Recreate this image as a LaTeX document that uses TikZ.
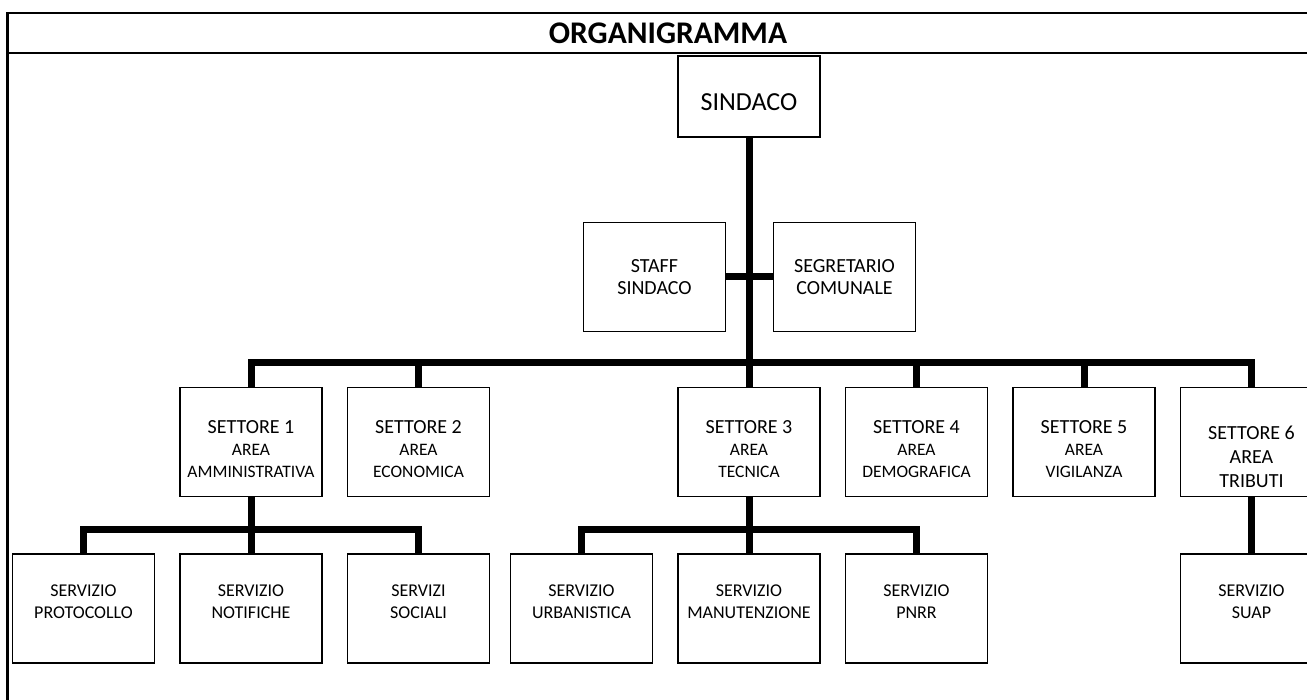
\documentclass[tikz,border=0pt]{standalone}
\usepackage{fontspec}
\setmainfont{Carlito}
\usetikzlibrary{positioning}
\newcommand{\areatext}[1]{{\fontsize{17.5}{20}\selectfont #1}}

\begin{document}
\begin{tikzpicture}[x=1pt, y=1pt,
  unit/.style={rectangle, draw, line width=1.5pt, inner sep=0pt, align=center, text centered,
               minimum width=142pt, minimum height=109pt},
  office/.style={unit, font=\fontsize{20}{22.5}\selectfont},
  settore/.style={unit, text height=71pt, font=\fontsize{20}{22}\selectfont},
  servizio/.style={unit, text depth=14pt, font=\fontsize{18}{22}\selectfont},
  conn/.style={line width=7pt},
  frame/.style={line width=2.5pt}]

\useasboundingbox (0,0) rectangle (1307,-700);

%Frame
\draw[frame] (7.5,-700) -- (7.5,-13) -- (1340,-13);
\draw[frame] (7.5,-53) -- (1340,-53);
\node (title) at (668,-33) {\fontsize{31.5}{36}\selectfont\bfseries ORGANIGRAMMA};

%Nodes
\node[unit, minimum height=81pt, text height=29pt, font=\fontsize{26}{30}\selectfont] (sindaco) at (749,-96.5) {SINDACO};
\node[office]   (staff)  at (654.5,-277)      {STAFF\\SINDACO};
\node[office]   (segr)   at (844.5,-277)      {SEGRETARIO\\COMUNALE};

\node[settore]  (s1)     at (251,-442)        {SETTORE 1\\\areatext{AREA}\\\areatext{AMMINISTRATIVA}};
\node[settore]  (s2)     [right=24pt of s1]   {SETTORE 2\\\areatext{AREA}\\\areatext{ECONOMICA}};
\node[settore]  (s3)     at (749,-442)        {SETTORE 3\\\areatext{AREA}\\\areatext{TECNICA}};
\node[settore]  (s4)     [right=24pt of s3]   {SETTORE 4\\\areatext{AREA}\\\areatext{DEMOGRAFICA}};
\node[settore]  (s5)     [right=24pt of s4]   {SETTORE 5\\\areatext{AREA}\\\areatext{VIGILANZA}};
\node[settore, text height=91pt] (s6) [right=24pt of s5] {SETTORE 6\\[2pt]AREA\\[2pt]TRIBUTI};

\node[servizio] (notif)  [below=56pt of s1]   {SERVIZIO\\NOTIFICHE};
\node[servizio] (prot)   [left=24pt of notif] {SERVIZIO\\PROTOCOLLO};
\node[servizio] (soc)    [right=24pt of notif]{SERVIZI\\SOCIALI};
\node[servizio] (manut)  [below=56pt of s3]   {SERVIZIO\\MANUTENZIONE};
\node[servizio] (urb)    [left=24pt of manut] {SERVIZIO\\URBANISTICA};
\node[servizio] (pnrr)   [right=24pt of manut]{SERVIZIO\\PNRR};
\node[servizio] (suap)   [below=56pt of s6]   {SERVIZIO\\SUAP};

\coordinate (bus)  at (749,-363);
\coordinate (bus1) at (251,-529);
\coordinate (bus3) at (749,-529);

%Lines
\draw[conn] (sindaco) -- (s3);
\draw[conn] (staff) -- (segr);
\draw[conn] (s1.north) |- (bus) -| (s6.north);
\foreach \s in {s2,s4,s5}
  \draw[conn] (\s.north) -- (\s.north |- bus);

\draw[conn] (prot.north) |- (bus1) -| (soc.north);
\draw[conn] (s1) -- (notif);
\draw[conn] (urb.north) |- (bus3) -| (pnrr.north);
\draw[conn] (s3) -- (manut);
\draw[conn] (s6) -- (suap);

\end{tikzpicture}
\end{document}
